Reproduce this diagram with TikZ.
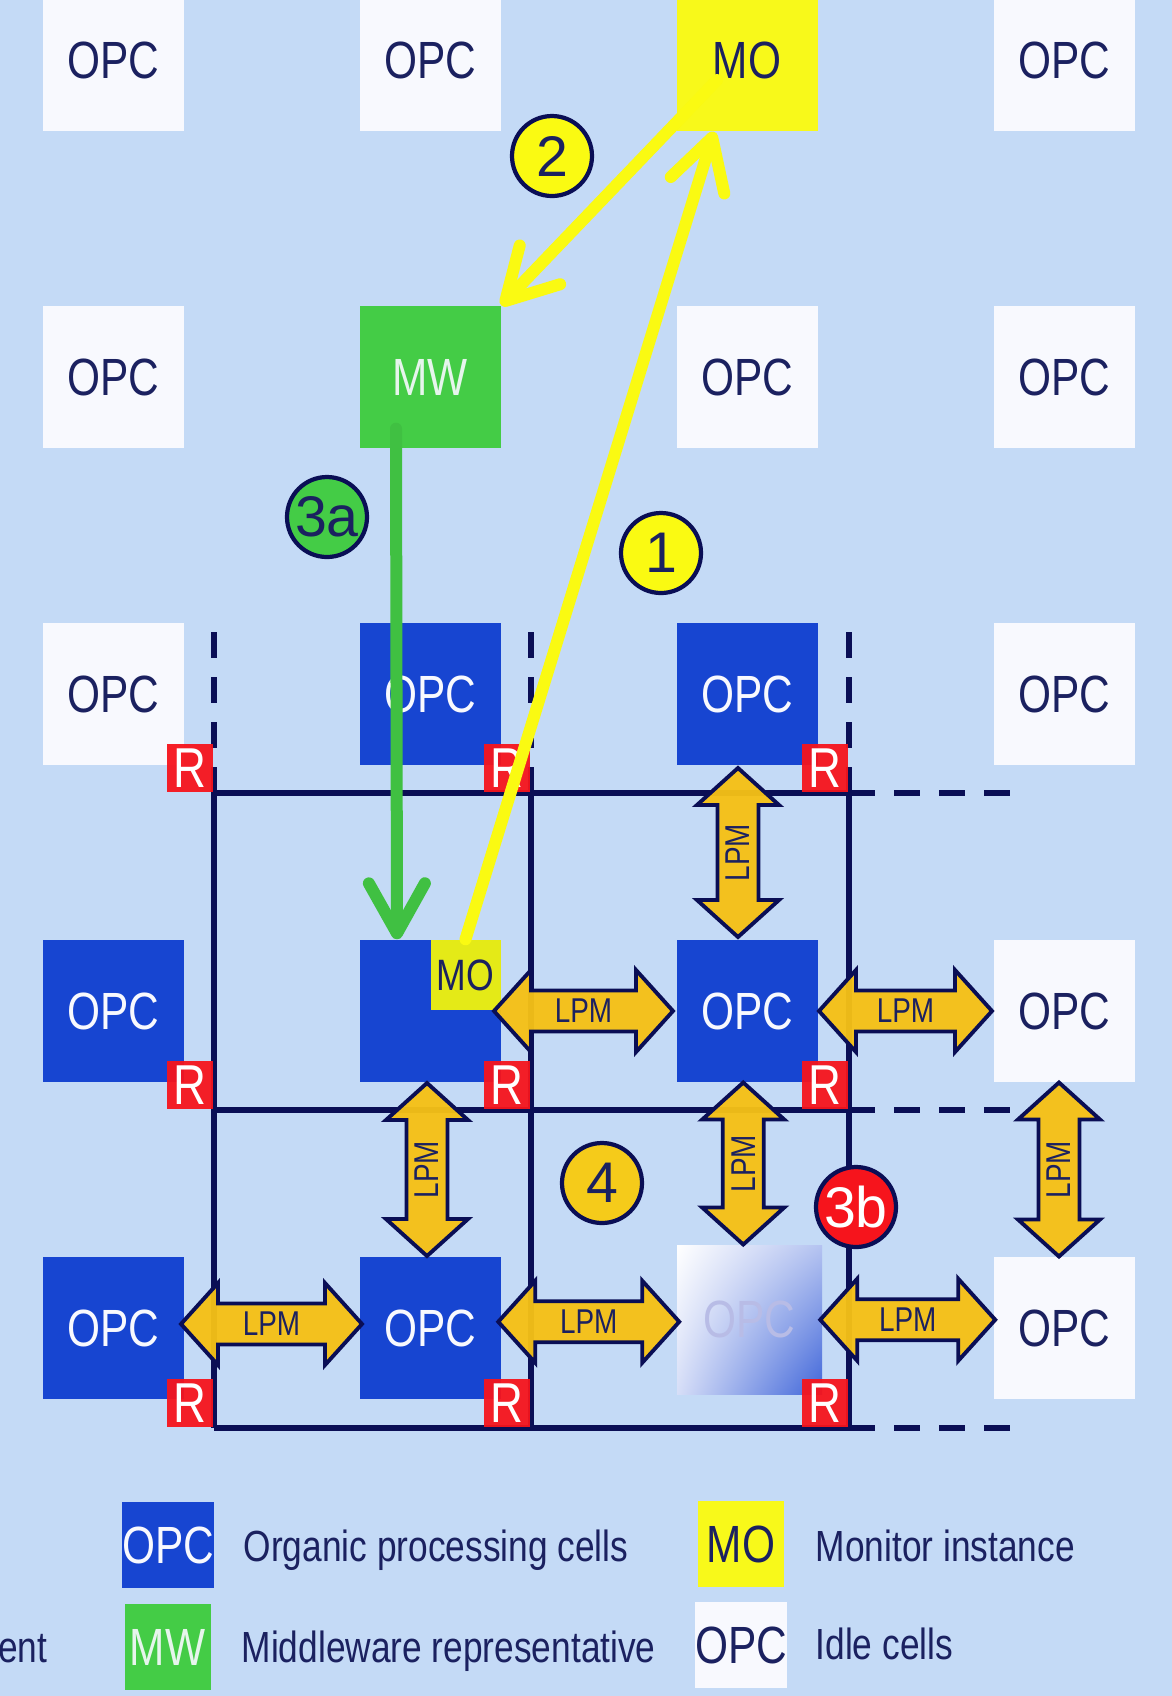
\documentclass[tikz,border=0pt]{standalone}
\usepackage{fontspec}
\setmainfont{Liberation Sans}[FakeStretch=0.81]
\newfontfamily\roundfont{Liberation Sans}
\usetikzlibrary{arrows.meta,positioning,shadings,calc}
\definecolor{ink}{HTML}{1B2160}
\definecolor{wireink}{HTML}{0A0E55}
\definecolor{sky}{HTML}{C4DAF6}
\definecolor{opcblue}{HTML}{1745D1}
\definecolor{idle}{HTML}{F8F9FE}
\definecolor{moyellow}{HTML}{F8F91A}
\definecolor{mosmall}{HTML}{E4EA17}
\definecolor{mwgreen}{HTML}{44CC46}
\definecolor{routerred}{HTML}{F6141C}
\definecolor{lpmfill}{HTML}{F5C116}
\definecolor{stepfour}{HTML}{F5CB1A}
\definecolor{lineyellow}{HTML}{FAFA12}
\definecolor{fadetext}{HTML}{B8BCE6}

\begin{document}
\begin{tikzpicture}[
  font=\fontsize{14.9}{16}\selectfont,
  text=ink,
  cell/.style={
    minimum width=1.41cm,
    minimum height=1.42cm,
    inner sep=0pt
  },
  active/.style={cell, fill=opcblue, text=idle},
  idlecell/.style={cell, fill=idle},
  monitor/.style={cell, fill=moyellow},
  middleware/.style={cell, fill=mwgreen, text=idle!90!mwgreen},
  keybox/.style={minimum width=0.86cm, minimum height=0.86cm},
  router/.style={
    anchor=south east,
    fill=routerred,
    fill opacity=0.95,
    text opacity=1,
    text=white,
    minimum width=0.46cm,
    minimum height=0.48cm,
    inner sep=0pt,
    font=\fontsize{16}{16}\selectfont
  },
  lpmbody/.style={
    draw=wireink,
    line width=1.1pt,
    fill=lpmfill,
    fill opacity=0.96
  },
  lpmlabel/.style={
    inner sep=0pt,
    text=ink,
    font=\fontsize{9.8}{10}\selectfont
  },
  pics/lpm/.style={
    code={
      \draw[lpmbody] ({-#1/2},0) -- ({-#1/2+0.37},0.41) -- ({-#1/2+0.37},0.205)
        -- ({#1/2-0.37},0.205) -- ({#1/2-0.37},0.41) -- ({#1/2},0)
        -- ({#1/2-0.37},-0.41) -- ({#1/2-0.37},-0.205) -- ({-#1/2+0.37},-0.205)
        -- ({-#1/2+0.37},-0.41) -- cycle;
      \node[lpmlabel] (-label) at (0,0) {LPM};
    }
  },
  badge/.style={
    circle,
    draw=wireink,
    line width=1.2pt,
    minimum size=0.80cm,
    inner sep=0pt,
    font=\roundfont\fontsize{16.3}{17}\selectfont
  },
  wire/.style={draw=wireink, line width=1.6pt},
  wireext/.style={wire, dash pattern=on 0.26cm off 0.19cm},
  flow/.style={line width=0.12cm, line cap=round, -{Straight Barb[length=0.5cm,width=0.56cm,round]}},
  meta/.style={anchor=base west, inner sep=0pt, font=\fontsize{12.4}{14}\selectfont}
]

\fill[sky] (0,0) rectangle (11.72,-16.96);
\useasboundingbox (0,0) rectangle (11.72,-16.96);

\node[idlecell] (opc11) at (1.13,-0.60) {OPC};
\node[idlecell] (opc12) at (4.30,-0.60) {OPC};
\node[monitor] (mo) at (7.47,-0.60) {MO};
\node[idlecell] (opc14) at (10.64,-0.60) {OPC};

\node[idlecell] (opc21) at (1.13,-3.77) {OPC};
\node[middleware] (mw) at (4.30,-3.77) {MW};
\node[idlecell] (opc23) at (7.47,-3.77) {OPC};
\node[idlecell] (opc24) at (10.64,-3.77) {OPC};

\node[idlecell] (opc31) at (1.13,-6.94) {OPC};
\node[active] (opc32) at (4.30,-6.94) {OPC};
\node[active] (opc33) at (7.47,-6.94) {OPC};
\node[idlecell] (opc34) at (10.64,-6.94) {OPC};

\node[active] (opc41) at (1.13,-10.11) {OPC};
\node[active] (host) at (4.30,-10.11) {};
\node[fill=mosmall, minimum size=0.70cm, inner sep=0pt, anchor=north east,
  font=\fontsize{12.5}{13}\selectfont] (mosub) at (host.north east) {MO};
\node[active] (opc43) at (7.47,-10.11) {OPC};
\node[idlecell] (opc44) at (10.64,-10.11) {OPC};

\node[active] (opc51) at (1.13,-13.28) {OPC};
\node[active] (opc52) at (4.30,-13.28) {OPC};
\node[cell, minimum width=1.45cm, minimum height=1.49cm, shade,
  upper left=white, upper right=opcblue!30!idle, lower left=opcblue!15!idle,
  lower right=opcblue!82!idle, text=fadetext] (fade) at (7.495,-13.195) {OPC};
\node[idlecell] (opc54) at (10.64,-13.28) {OPC};

\draw[wire] (2.14,-7.93) -- (8.49,-7.93);
\draw[wire] (2.14,-11.10) -- (8.49,-11.10);
\draw[wire] (2.14,-14.28) -- (8.49,-14.28);
\draw[wire] (2.14,-7.93) -- (2.14,-14.28);
\draw[wire] (5.31,-7.93) -- (5.31,-14.28);
\draw[wire] (8.49,-7.93) -- (8.49,-14.28);
\draw[wireext] (2.14,-6.32) -- (2.14,-7.93);
\draw[wireext] (5.31,-6.32) -- (5.31,-7.93);
\draw[wireext] (8.49,-6.32) -- (8.49,-7.93);
\draw[wireext] (8.49,-7.93) -- (10.11,-7.93);
\draw[wireext] (8.49,-11.10) -- (10.11,-11.10);
\draw[wireext] (8.49,-14.28) -- (10.11,-14.28);

\node[router] (r31) at (2.14,-7.93) {R};
\node[router] (r32) at (5.31,-7.93) {R};
\node[router] (r33) at (8.49,-7.93) {R};
\node[router] (r41) at (2.14,-11.10) {R};
\node[router] (r42) at (5.31,-11.10) {R};
\node[router] (r43) at (8.49,-11.10) {R};
\node[router] (r51) at (2.14,-14.28) {R};
\node[router] (r52) at (5.31,-14.28) {R};
\node[router] (r53) at (8.49,-14.28) {R};

\pic[rotate=90, transform shape] (lpm1) at ($(opc33.south)!0.5!(opc43.north)+(-0.09,0)$) {lpm=1.69};
\pic (lpm2) at ($(host.east)!0.5!(opc43.west)+(-0.05,0)$) {lpm=1.79};
\pic (lpm3) at ($(opc43.east)!0.5!(opc44.west)$) {lpm=1.73};
\pic[rotate=90, transform shape] (lpm4) at ($(host.south)!0.5!(opc52.north)+(-0.03,0)$) {lpm=1.73};
\pic[rotate=90, transform shape] (lpm5) at ($(opc43.south)!0.5!(fade.north)+(-0.05,0)$) {lpm=1.62};
\pic[rotate=90, transform shape] (lpm6) at ($(opc44.south)!0.5!(opc54.north)+(-0.05,0)$) {lpm=1.74};
\pic (lpm7) at ($(opc51.east)!0.5!(opc52.west)+(0,0.04)$) {lpm=1.81};
\pic (lpm8) at ($(opc52.east)!0.5!(fade.west)+(0,0.02)$) {lpm=1.81};
\pic (lpm9) at ($(fade.east)!0.5!(opc54.west)+(0,0.04)$) {lpm=1.75};

\node[badge, fill=lineyellow] (two) at (5.52,-1.56) {2};
\node[badge, fill=lineyellow] (one) at (6.61,-5.53) {1};
\node[badge, fill=mwgreen] (threea) at (3.27,-5.17) {3a};
\node[badge, fill=stepfour] (four) at (6.02,-11.83) {4};
\node[badge, fill=routerred, text=white] (threeb) at (8.56,-12.07) {3b};

\draw[flow, draw=mwgreen!94!black] ([xshift=-3.4mm,yshift=2mm]mw.south) -- ([xshift=-3.3mm]host.north);
\draw[flow, draw=lineyellow] (mosub.north) -- ([xshift=-3.3mm]mo.south);
\draw[flow, draw=lineyellow] ([xshift=-3mm,yshift=-2mm]mo.center) -- (mw.north east);

\node[active, keybox] (keyopc) at (1.68,-15.45) {OPC};
\node[middleware, keybox] (keymw) at (1.675,-16.47) {MW};
\node[monitor, keybox] (keymo) at (7.41,-15.44) {MO};
\node[idlecell, keybox] (keyidle) at (7.41,-16.45) {OPC};
\node[meta] (txtopc) at (2.43,-15.61) {Organic processing cells};
\node[meta] (txtmw) at (2.41,-16.62) {Middleware representative};
\node[meta] (txtmo) at (8.15,-15.61) {Monitor instance};
\node[meta] (txtidle) at (8.15,-16.59) {Idle cells};
\node[meta, anchor=base east] (txtcut) at (0.48,-16.62) {ent};

\end{tikzpicture}
\end{document}
